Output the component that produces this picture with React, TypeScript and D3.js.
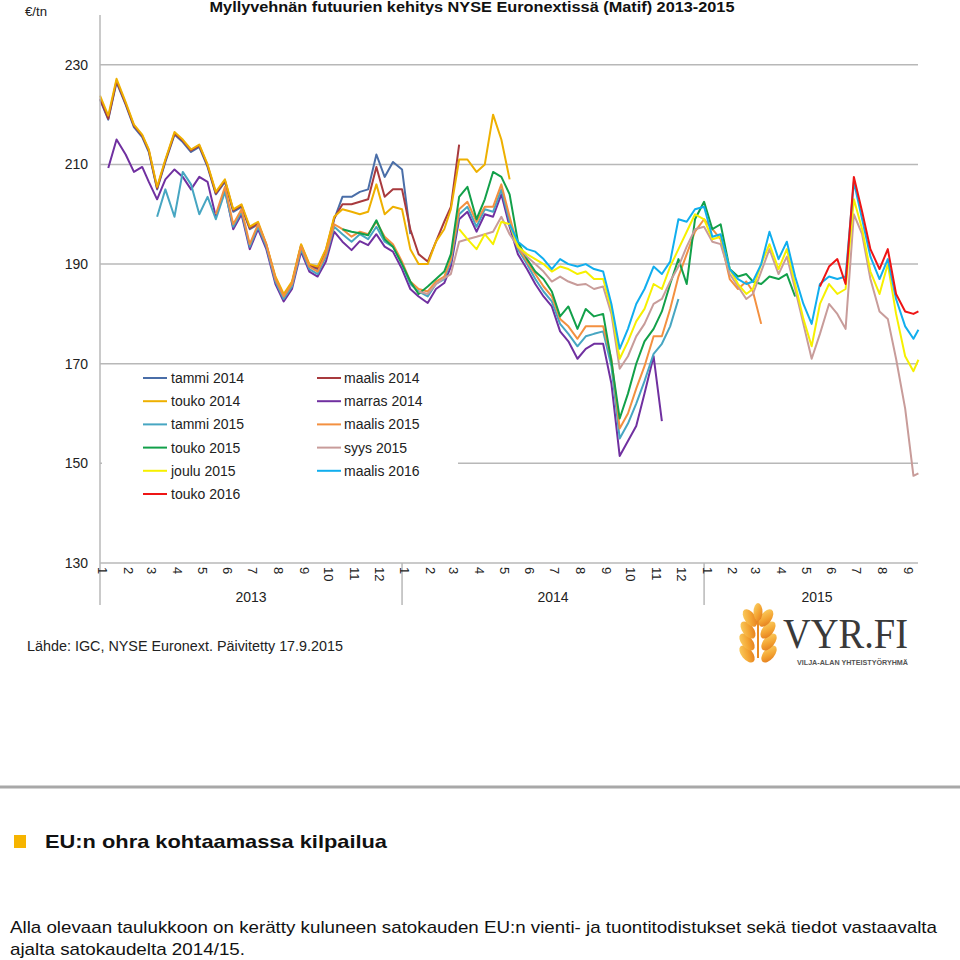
import React from "react";
import * as d3 from "d3";

// ---- data (values read every ~10 days: day 1, 11, 21 of each month from Jan 2013) ----
const SERIES_NAMES = [
  "tammi 2014", "maalis 2014", "touko 2014", "marras 2014", "tammi 2015", "maalis 2015",
  "touko 2015", "syys 2015", "joulu 2015", "maalis 2016", "touko 2016",
];
const SERIES_COLORS = [
  "#4a6ea8", "#a83a3e", "#eeb000", "#7030a0", "#47a6c2", "#f39040",
  "#12a04a", "#c89c9a", "#f6f000", "#11aeee", "#ee1515",
];
// start index (in 10-day steps from 1 Jan 2013)
const SERIES_START = [0, 0, 0, 1, 7, 14, 29, 38, 43, 49, 86];

const tammi2014 = [223, 219, 226.5, 222, 217.5, 215.5, 212.5, 205, 210.5, 216, 214.5, 212.5, 213.5, 209.5, 204, 206.5, 200.5, 201.5, 197, 198, 193.5, 187, 183.5, 186, 193.5, 189.5, 189, 192.5, 199, 203.5, 203.5, 204.5, 205, 212, 207.5, 210.5, 209, 196];
const maalis2014 = [223.2, 219.2, 226.8, 222.2, 217.8, 215.8, 212.8, 205.2, 210.8, 216.2, 214.8, 212.8, 213.8, 209.8, 204.2, 206.8, 200.8, 201.8, 197.2, 198.2, 193.8, 187.2, 183.6, 186.2, 193.8, 189.8, 189.2, 192.8, 199.2, 202, 202, 202.5, 203, 209.5, 203.5, 205, 205, 197, 192, 190.5, 194.5, 198.5, 201.5, 214];
const touko2014 = [223.8, 219.8, 227.2, 222.5, 218, 216, 213, 205.5, 211, 216.5, 215, 213, 214, 210, 204.5, 207, 201, 202, 197.5, 198.5, 194, 187.5, 184, 186.5, 194, 190, 189.5, 193, 199.5, 201, 200.5, 200, 200.5, 206, 200, 201.5, 201, 193, 190, 190, 194.5, 197, 201, 211, 211, 208.5, 210, 220, 215, 207];
const marras2014 = [209.3, 215, 212, 208.5, 209.5, 206.5, 203, 207, 209, 207.5, 205, 207.5, 206.5, 199.5, 205, 197, 200, 193, 197, 193, 186, 182.5, 185, 192.5, 188.5, 187.5, 190.5, 196.5, 194.5, 192.8, 194.6, 193.8, 196, 193.5, 192.5, 189, 185, 183.5, 182.2, 185, 186.2, 189.5, 199, 200.5, 196.5, 200, 199.5, 204, 197.5, 192, 189, 186, 183.5, 181.5, 176.5, 174.5, 171, 173, 174, 174, 166, 151.5, 154.5, 157.5, 164, 171.5, 158.5];
const tammi2015 = [199.5, 205, 199.5, 208.5, 206, 200, 203.5, 199, 204.5, 197.5, 200.5, 193.5, 197.5, 193.5, 186.5, 183, 185.5, 193, 189, 188, 191.5, 197.5, 196, 194.5, 196, 195, 197.5, 194.5, 193.5, 190, 186, 184.5, 183.5, 186, 187, 190.5, 200, 201.5, 197.5, 201, 200.5, 205, 198.5, 193, 190, 187, 184.5, 182.5, 178, 176, 173.5, 175.5, 176, 176.5, 169.5, 155, 158, 162, 166.5, 172, 174, 177.5, 183];
const maalis2015 = [200, 205.5, 198, 201, 194, 198, 194, 187, 183.5, 186, 193.5, 189.5, 188.5, 192, 198, 197, 195.5, 196.5, 196, 198.5, 195.5, 194, 190.5, 186.5, 185, 184.5, 186.5, 187.5, 191, 201, 202.5, 198.5, 201.5, 201.5, 206, 199.5, 193.5, 190.5, 188, 185.5, 183.5, 179, 177.5, 175, 177.5, 177.5, 177.5, 171, 157, 160, 165, 169.5, 175.5, 175.5, 181, 187.5, 192, 196.5, 199, 197, 195, 187, 185, 186.5, 184.5, 178];
const touko2015 = [197, 196.5, 196.2, 195.8, 198.8, 195, 193.5, 190, 186.5, 184, 185.5, 187, 188.5, 192, 203.5, 205.5, 199, 203, 208.5, 207.5, 204, 194.5, 191, 188.5, 187, 184.5, 179.5, 181.5, 177, 181, 179.5, 180, 170.5, 159, 164, 170, 174.5, 177, 180.5, 186, 191, 186, 199, 202.5, 197, 198, 189, 187.5, 188, 186.5, 186, 187.5, 187, 188, 183.5];
const syys2015 = [184.5, 184, 186, 187.2, 188, 194.5, 195, 195.5, 196, 196.5, 199.5, 196, 193.5, 191.5, 190, 188.5, 186.5, 187.5, 186.5, 185.8, 186, 185, 185.5, 180, 169, 171.5, 175.5, 178, 182, 183, 186.5, 189.5, 193.5, 197, 197.5, 194.5, 194, 188, 185.5, 183, 184, 188.5, 193, 188, 191.5, 185, 178, 171, 176, 182, 180, 177, 200, 196, 187, 180.5, 179, 171, 161, 147.5, 148];
const joulu2015 = [197, 195, 193, 196, 194, 198.5, 198, 193.5, 192, 191, 190, 188.5, 189.5, 189, 188, 188.5, 187, 187, 181, 171, 174.5, 178.5, 181, 186, 185, 189.5, 193, 196.5, 200, 199, 195, 195.5, 189, 186, 184, 185, 190, 194, 189, 193, 186, 179, 173.5, 182, 186, 184, 185, 203, 197, 188.5, 184, 190, 180, 171.5, 168.5, 170.8];
const maalis2016 = [198, 194.5, 193, 192.5, 191, 189, 191, 190, 189.5, 190, 189, 188.5, 182, 173, 177, 182, 185, 189.5, 188, 190.5, 199, 198.5, 201, 201.5, 195.5, 196, 189, 187, 186, 186.5, 190, 196.5, 191, 194.5, 187.5, 182, 178, 186, 187.5, 187, 187.5, 206.5, 199, 191.5, 187, 191, 183, 177.5, 175, 176.8];
const touko2016 = [185.5, 189.5, 191, 186, 207.5, 200.5, 193, 189, 193, 184, 180.5, 180, 180.5];

const SERIES_VALUES = [tammi2014, maalis2014, touko2014, marras2014, tammi2015, maalis2015, touko2015, syys2015, joulu2015, maalis2016, touko2016];

const Y_TICKS = [130, 150, 170, 190, 210, 230];
const YEARS = [2013, 2014, 2015];
const MONTHS_IN_YEAR = [12, 12, 9];
const LAST_DATE = new Date(2015, 8, 17);

// legend layout (left column entries, then right column)
const LEGEND_LEFT = [0, 2, 4, 6, 8, 10];
const LEGEND_RIGHT = [1, 3, 5, 7, 9];

function indexToDate(i: number): Date {
  const m = Math.floor(i / 3);
  const d = new Date(2013 + Math.floor(m / 12), m % 12, 1 + 10 * (i % 3));
  return d > LAST_DATE ? LAST_DATE : d;
}

const FONT = "'Liberation Sans', Arial, sans-serif";

export default function App() {
  const x = d3.scaleTime().domain([new Date(2013, 0, 1), new Date(2015, 9, 1)]).range([100, 930]);
  const y = d3.scaleLinear().domain([130, 240]).range([563, 15]);
  const gridRight = 918;

  const line = d3
    .line<[Date, number]>()
    .x((d) => x(d[0]))
    .y((d) => y(d[1]))
    .curve(d3.curveLinear);

  const paths = SERIES_VALUES.map((vals, s) => {
    const pts: [Date, number][] = vals.map((v, k) => [indexToDate(SERIES_START[s] + k), v]);
    return line(pts) || "";
  });

  const monthTicks: { date: Date; label: string }[] = [];
  YEARS.forEach((yr, yi) => {
    for (let m = 0; m < MONTHS_IN_YEAR[yi]; m++) {
      monthTicks.push({ date: new Date(yr, m, 1), label: String(m + 1) });
    }
  });
  const yearBounds = [new Date(2013, 0, 1), new Date(2014, 0, 1), new Date(2015, 0, 1), new Date(2015, 9, 1)];

  const legendRowY = (r: number) => 378 + r * 23.2;

  const grains = [
    { cx: -11, cy: 30, r: -40 }, { cx: 11, cy: 30, r: 40 },
    { cx: -11, cy: 18, r: -40 }, { cx: 11, cy: 18, r: 40 },
    { cx: -10, cy: 6, r: -38 }, { cx: 10, cy: 6, r: 38 },
    { cx: -8, cy: -6, r: -35 }, { cx: 8, cy: -6, r: 35 },
  ];

  return (
    <svg width={960} height={960} style={{ position: "absolute", left: 0, top: 0, background: "#fff" }} fontFamily={FONT}>
      <defs>
        <linearGradient id="wheat" x1="0" y1="0" x2="1" y2="1">
          <stop offset="0%" stopColor="#fcd66a" />
          <stop offset="55%" stopColor="#f3a432" />
          <stop offset="100%" stopColor="#e0731a" />
        </linearGradient>
      </defs>

      {/* title */}
      <text x={472} y={12} textAnchor="middle" fontSize={14} fontWeight="bold" fill="#111" textLength={525} lengthAdjust="spacingAndGlyphs">
        Myllyvehnän futuurien kehitys NYSE Euronextissä  (Matif) 2013-2015
      </text>
      <text x={25} y={16} fontSize={12} fill="#222" textLength={22} lengthAdjust="spacingAndGlyphs">€/tn</text>

      {/* gridlines */}
      {Y_TICKS.map((t) => (
        <line key={t} x1={100} x2={gridRight} y1={y(t)} y2={y(t)} stroke="#b8b8b8" strokeWidth={1.5} />
      ))}
      {Y_TICKS.map((t) => (
        <text key={"l" + t} x={88} y={y(t)} dy="0.35em" textAnchor="end" fontSize={14} fill="#222">
          {t}
        </text>
      ))}

      {/* series */}
      {paths.map((p, s) => (
        <path key={s} d={p} fill="none" stroke={SERIES_COLORS[s]} strokeWidth={2} strokeLinejoin="round" />
      ))}

      {/* legend */}
      <rect x={102} y={367} width={356} height={138} fill="#fff" />
      {LEGEND_LEFT.map((s, r) => (
        <g key={"ll" + s}>
          <line x1={143} x2={167} y1={legendRowY(r)} y2={legendRowY(r)} stroke={SERIES_COLORS[s]} strokeWidth={2} />
          <text x={171} y={legendRowY(r)} dy="0.35em" fontSize={14} fill="#222">{SERIES_NAMES[s]}</text>
        </g>
      ))}
      {LEGEND_RIGHT.map((s, r) => (
        <g key={"lr" + s}>
          <line x1={317} x2={341} y1={legendRowY(r)} y2={legendRowY(r)} stroke={SERIES_COLORS[s]} strokeWidth={2} />
          <text x={344} y={legendRowY(r)} dy="0.35em" fontSize={14} fill="#222">{SERIES_NAMES[s]}</text>
        </g>
      ))}

      {/* axes */}
      <line x1={100} x2={100} y1={15} y2={605} stroke="#b8b8b8" strokeWidth={1.5} />
      {yearBounds.slice(1, 3).map((d, i) => (
        <line key={"yb" + i} x1={x(d)} x2={x(d)} y1={563} y2={605} stroke="#b8b8b8" strokeWidth={1.5} />
      ))}
      {monthTicks.map((m, i) => (
        <text key={"m" + i} transform={`translate(${x(m.date) + 3},567) rotate(90)`} dy="0.35em" fontSize={13} fill="#222">
          {m.label}
        </text>
      ))}
      {YEARS.map((yr, i) => (
        <text key={"y" + yr} x={(x(yearBounds[i]) + x(yearBounds[i + 1])) / 2} y={602} textAnchor="middle" fontSize={14} fill="#222">
          {yr}
        </text>
      ))}

      {/* source */}
      <text x={27} y={651} fontSize={14} fill="#222" textLength={316} lengthAdjust="spacingAndGlyphs">
        Lähde: IGC, NYSE Euronext. Päivitetty 17.9.2015
      </text>

      {/* logo */}
      <g transform="translate(758,624)">
        <path d="M0,-14 L0,34" stroke="#e88a22" strokeWidth={2} />
        {grains.map((g, i) => (
          <ellipse key={i} cx={g.cx} cy={g.cy} rx={5.5} ry={10} transform={`rotate(${g.r},${g.cx},${g.cy})`} fill="url(#wheat)" />
        ))}
        <ellipse cx={0} cy={-12} rx={4.5} ry={9} fill="url(#wheat)" />
      </g>
      <text x={783} y={648} fontFamily="'Liberation Serif', 'DejaVu Serif', serif" fontSize={42} fill="#3a3a3a" textLength={125} lengthAdjust="spacingAndGlyphs">
        VYR.FI
      </text>
      <text x={797} y={665} fontSize={6.5} fontWeight="bold" fill="#555" textLength={111} lengthAdjust="spacingAndGlyphs">
        VILJA-ALAN YHTEISTYÖRYHMÄ
      </text>

      {/* separator */}
      <line x1={0} x2={960} y1={787} y2={787} stroke="#a8a8a8" strokeWidth={3} />

      {/* article heading */}
      <rect x={14} y={835} width={12} height={13} fill="#f6b400" />
      <text x={45} y={848} fontSize={19} fontWeight="bold" fill="#111" textLength={342} lengthAdjust="spacingAndGlyphs">
        EU:n ohra kohtaamassa kilpailua
      </text>
      <text x={10} y={933} fontSize={17} fill="#111" textLength={927} lengthAdjust="spacingAndGlyphs">
        Alla olevaan taulukkoon on kerätty kuluneen satokauden EU:n vienti- ja tuontitodistukset sekä tiedot vastaavalta
      </text>
      <text x={10} y={955} fontSize={17} fill="#111" textLength={235} lengthAdjust="spacingAndGlyphs">
        ajalta satokaudelta 2014/15.
      </text>
    </svg>
  );
}
